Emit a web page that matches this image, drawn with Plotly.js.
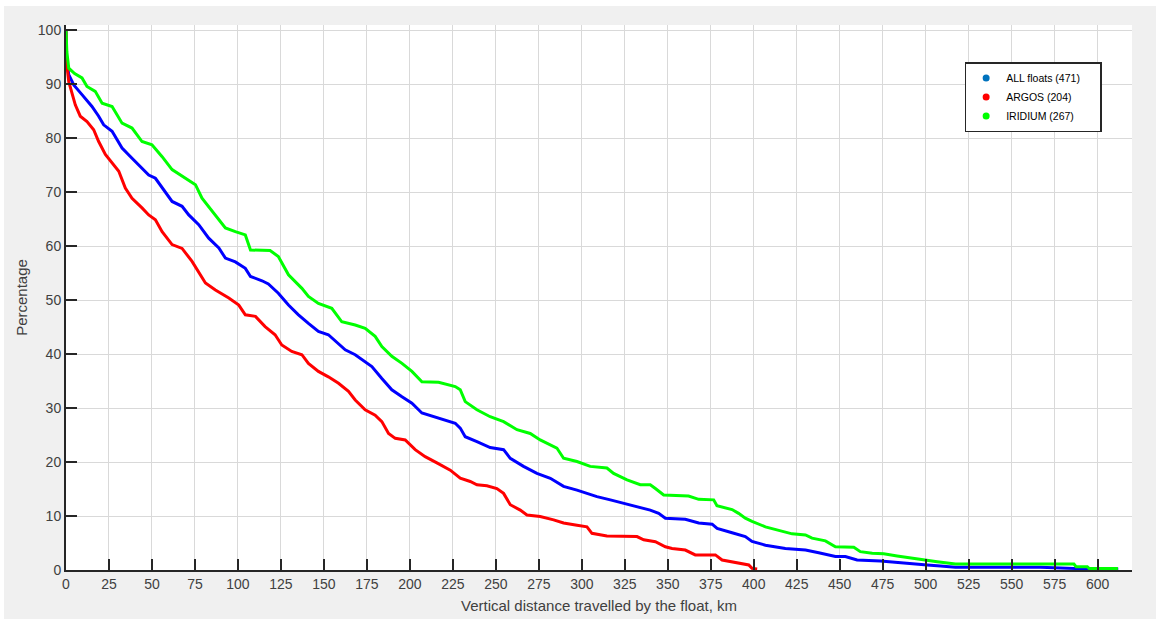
<!DOCTYPE html>
<html>
<head>
<meta charset="utf-8">
<script src="https://cdn.plot.ly/plotly-3.0.1.min.js"></script>
<style>
  html, body { margin: 0; padding: 0; background: #ffffff; }
  #chart { position: absolute; left: 4px; top: 6px; width: 1152px; height: 613px; }
</style>
</head>
<body>
<div id="chart"></div>
<script>
// ALL floats (471)
const allX = [0, 0.3, 1.6, 4.5, 9.3, 15.1, 19, 21.9, 26.8, 32.6, 38.4, 44.2, 48.1, 52, 55.9, 61.7, 67.5, 71.4, 77.2, 83, 88.9, 92.7, 98.5, 104.3, 107.3, 114, 117.7, 123.5, 129.4, 135.2, 141, 146.8, 152.6, 158.5, 162.4, 168.2, 174, 177.9, 183.7, 189.5, 195.4, 201.2, 207, 214.7, 220.6, 226.4, 229.3, 232.2, 239, 246.7, 254.5, 258.4, 266.1, 273.9, 281.7, 289.4, 297.2, 303, 308.8, 316.6, 324.3, 332.1, 339.8, 344.7, 348.6, 360.2, 368, 375.8, 378.7, 387.4, 395.1, 399, 406.8, 418.4, 430.1, 437.8, 447.5, 453.3, 460.1, 473.7, 483.4, 491.2, 500.9, 508.6, 517.3, 566.8, 586, 594, 612];
const allY = [100, 95, 91.8, 89.9, 88.1, 85.9, 84.1, 82.5, 81.3, 78.2, 76.3, 74.5, 73.2, 72.6, 70.8, 68.3, 67.4, 65.8, 64.0, 61.5, 59.7, 57.8, 57.1, 55.9, 54.4, 53.6, 53.0, 51.3, 49.1, 47.3, 45.7, 44.2, 43.6, 42.0, 40.8, 39.9, 38.6, 37.7, 35.5, 33.4, 32.1, 30.9, 29.1, 28.4, 27.8, 27.2, 26.3, 24.7, 23.8, 22.7, 22.3, 20.7, 19.2, 17.9, 17.0, 15.5, 14.8, 14.2, 13.6, 13.0, 12.4, 11.7, 11.1, 10.5, 9.6, 9.4, 8.7, 8.5, 7.7, 6.9, 6.2, 5.3, 4.6, 4.0, 3.7, 3.2, 2.5, 2.5, 1.85, 1.67, 1.36, 1.1, 0.93, 0.74, 0.5, 0.5, 0.3, 0.2, 0.2];

// ARGOS (204)
const argosX = [0, 0, 1.6, 3.5, 5.4, 8.3, 12.2, 16.1, 19, 22.9, 26.8, 30.7, 34.5, 38.4, 44.2, 48.1, 52, 55.9, 61.7, 67.5, 73.3, 77.2, 81.1, 86.9, 94.7, 100.5, 104.3, 110.2, 115.8, 121.6, 125.5, 131.3, 137.2, 141, 146.8, 152.6, 158.5, 164.3, 168.2, 174, 179.8, 183.7, 187.6, 191.5, 197.3, 203.1, 208.9, 216, 223.5, 229.3, 235.1, 239, 244.8, 250.6, 254.5, 258.4, 264.2, 268.1, 275.8, 283.6, 289.4, 297.2, 303, 305.9, 314.6, 332.1, 336, 342.8, 348.6, 352.5, 360.2, 366, 377.7, 381.6, 389.3, 397.1, 399, 402];
const argosY = [100, 95, 90.5, 88.1, 86.2, 84.1, 83.1, 81.6, 79.4, 77.0, 75.4, 73.9, 70.8, 68.9, 67.1, 65.8, 64.9, 62.7, 60.3, 59.6, 57.2, 55.3, 53.2, 51.9, 50.4, 49.1, 47.3, 47.0, 45.1, 43.6, 41.7, 40.5, 39.9, 38.3, 36.8, 35.8, 34.6, 33.1, 31.5, 29.7, 28.7, 27.5, 25.3, 24.4, 24.1, 22.3, 21.0, 19.8, 18.5, 17.0, 16.4, 15.8, 15.6, 15.1, 14.2, 12.1, 11.1, 10.2, 9.9, 9.3, 8.7, 8.3, 8.0, 6.8, 6.3, 6.2, 5.6, 5.25, 4.3, 4.0, 3.7, 2.8, 2.8, 1.85, 1.36, 0.93, 0.3, 0.2];

// IRIDIUM (267)
const iridiumX = [0, 0.5, 1.6, 5, 9.3, 12.2, 17, 21, 26.8, 32.6, 38.4, 44.2, 50, 55.9, 61.7, 69.4, 75.3, 79.1, 86.9, 92.7, 98.5, 104.3, 107.3, 118.7, 123.5, 129.4, 137.2, 141, 146.8, 154.6, 160.4, 168.2, 174, 179.8, 183.7, 189.5, 195.4, 201.2, 207, 216.7, 226.4, 229.3, 232.2, 239, 246.7, 254.5, 262.3, 270, 275.8, 285.5, 289.4, 297.2, 304.9, 314.6, 318.5, 326.3, 334, 339.8, 342.8, 347.6, 362.1, 368, 376.7, 378.6, 387.4, 391.2, 395.1, 399, 406.8, 414.5, 422.3, 430.1, 433.9, 441.7, 447.5, 458.2, 462, 468.9, 475.6, 483.4, 491.2, 498.9, 506.7, 517.3, 586.2, 587.5, 594, 595, 611.8];
const iridiumY = [100, 96, 93.0, 92, 91.2, 89.6, 88.7, 86.5, 85.9, 82.8, 81.9, 79.4, 78.8, 76.6, 74.2, 72.6, 71.4, 68.9, 65.8, 63.4, 62.7, 62.1, 59.3, 59.2, 58.1, 54.7, 52.2, 50.7, 49.4, 48.5, 46.0, 45.4, 44.8, 43.3, 41.4, 39.6, 38.3, 36.8, 34.9, 34.8, 34.0, 33.4, 31.2, 29.7, 28.4, 27.5, 26.0, 25.3, 24.1, 22.6, 20.7, 20.1, 19.2, 18.9, 17.9, 16.7, 15.8, 15.8, 15.1, 13.9, 13.7, 13.1, 13.0, 11.9, 11.2, 10.5, 9.6, 9.0, 8.0, 7.4, 6.7, 6.5, 5.9, 5.4, 4.3, 4.2, 3.4, 3.1, 3.0, 2.6, 2.2, 1.85, 1.54, 1.1, 1.1, 0.6, 0.6, 0.3, 0.3];

const seriesNames = ["ALL floats (471)", "ARGOS (204)", "IRIDIUM (267)"];
const lineColors = ["#0000ff", "#ff0000", "#00ff00"];
const legendColors = ["#0072bd", "#ff0000", "#00ff00"];
const xTicks = [0, 25, 50, 75, 100, 125, 150, 175, 200, 225, 250, 275, 300, 325, 350, 375, 400, 425, 450, 475, 500, 525, 550, 575, 600];
const yTicks = [0, 10, 20, 30, 40, 50, 60, 70, 80, 90, 100];

const seriesX = [allX, argosX, iridiumX];
const seriesY = [allY, argosY, iridiumY];

const traces = [];
for (let i = 0; i < 3; i++) {
  traces.push({
    type: "scatter", mode: "lines",
    x: seriesX[i], y: seriesY[i],
    line: { color: lineColors[i], width: 3 },
    showlegend: false, hoverinfo: "skip"
  });
}
const pad = "\u00a0\u00a0\u00a0\u00a0\u00a0";
for (let i = 0; i < 3; i++) {
  traces.push({
    type: "scatter", mode: "markers",
    x: [null], y: [null],
    name: seriesNames[i] + pad,
    marker: { color: legendColors[i], size: 7 },
    showlegend: true
  });
}

const font = "Liberation Sans, Arial, Helvetica, sans-serif";
const layout = {
  width: 1152, height: 613,
  paper_bgcolor: "#f0f0f0",
  plot_bgcolor: "#ffffff",
  margin: { l: 62, r: 24, t: 19, b: 49, pad: 0 },
  font: { family: font, color: "#404040", size: 14 },
  xaxis: {
    range: [0, 620],
    tickvals: xTicks, ticktext: xTicks.map(String),
    ticks: "inside", ticklen: 11, tickwidth: 2, tickcolor: "#262626",
    showline: true, linecolor: "#262626", linewidth: 2, mirror: false,
    showgrid: true, gridcolor: "#d9d9d9", gridwidth: 1,
    zeroline: false,
    tickfont: { family: font, size: 14, color: "#404040" },
    title: { text: "Vertical distance travelled by the float, km", font: { family: font, size: 15, color: "#404040" }, standoff: 10 }
  },
  yaxis: {
    range: [0, 101],
    tickvals: yTicks, ticktext: yTicks.map(String),
    ticks: "inside", ticklen: 11, tickwidth: 2, tickcolor: "#262626",
    showline: true, linecolor: "#262626", linewidth: 2, mirror: false,
    showgrid: true, gridcolor: "#d9d9d9", gridwidth: 1,
    zeroline: false,
    tickfont: { family: font, size: 14, color: "#404040" },
    title: { text: "Percentage", font: { family: font, size: 15, color: "#404040" }, standoff: 7 }
  },
  legend: {
    x: 0.843, y: 0.932, xanchor: "left", yanchor: "top",
    bgcolor: "#ffffff", bordercolor: "#262626", borderwidth: 1.5,
    font: { family: font, size: 10.5, color: "#000000" },
    itemwidth: 30, tracegroupgap: 0
  },
  showlegend: true
};

Plotly.newPlot("chart", traces, layout, { displayModeBar: false, staticPlot: true });
</script>
</body>
</html>
